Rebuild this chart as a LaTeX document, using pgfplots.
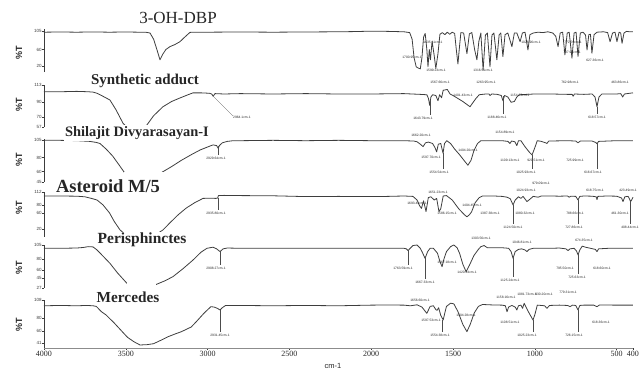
\documentclass[border=0pt]{standalone}
\usepackage{pgfplots}
\pgfplotsset{compat=1.18}
\usepackage{fontspec}
\setmainfont{Liberation Serif}
\setsansfont{Liberation Sans}
\definecolor{spec}{RGB}{62,62,62}
\definecolor{axc}{RGB}{60,60,60}
\pgfplotsset{
  panel/.style={
    scale only axis, width=589pt, xmin=400, xmax=4000, x dir=reverse,
    clip=false, axis y line*=left,
    axis line style={-, line width=0.5pt, draw=axc},
    tick align=outside, major tick length=1.6pt,
    every tick/.style={line width=0.4pt, draw=axc},
    yticklabel style={font=\sffamily\fontsize{4.5}{5}\selectfont, text=axc, inner sep=0.6pt},
    /pgf/number format/assume math mode=true,
    anchor=south west,
  },
  spec/.style={line width=0.8pt, color=spec, mark=none, line join=round},
}
\tikzset{
  pk/.style={font=\sffamily\fontsize{3.3}{4}\selectfont, text=black!85, inner sep=0pt},
  ld/.style={line width=0.3pt, draw=black!70},
  tt/.style={fill=white, inner sep=1pt, text=black!85},
}
\begin{document}
\begin{tikzpicture}
% Panel 1: 3-OH-DBP
\begin{axis}[panel, axis x line=none, at={(44pt,298.8pt)}, height=43.3pt, ymin=5, ymax=110, ytick={20,60,105}]
\addplot[spec] coordinates {(4000,102)(3900,102.5)(3800,102)(3700,102.6)(3600,102)(3500,102.5)(3420,102)(3380,102)(3352,100)(3330,85)(3310,60)(3291,35)(3275,48)(3255,60)(3230,67)(3200,72)(3169,79)(3140,90)(3108,101.5)(3080,102)(3000,102)(2800,102.5)(2600,102)(2400,102.5)(2200,103)(2100,103.5)(2000,104.5)(1900,104)(1800,103)(1765,101)(1750,85)(1738,40)(1725,18)(1712,15)(1700,13)(1690,40)(1680,90)(1670,99)(1660,60)(1653,18)(1645,60)(1638,35)(1628,80)(1615,45)(1605,14)(1592,50)(1580,97)(1565,101)(1550,96)(1535,102)(1520,97)(1505,102)(1490,99)(1480,60)(1470,25)(1462,60)(1452,101)(1435,100)(1415,50)(1400,98)(1385,101)(1368,60)(1354,35)(1342,80)(1330,100)(1316,10)(1302,95)(1290,100)(1274,18)(1262,95)(1250,100)(1232,35)(1218,96)(1208,100)(1195,43)(1182,96)(1165,100)(1140,67)(1125,100)(1110,100)(1090,79)(1076,100)(1060,102)(1042,59)(1030,96)(1010,100)(980,102)(950,101)(920,103)(890,100)(872,92)(858,67)(845,100)(830,102)(816,47)(802,100)(790,102)(773,39)(760,100)(748,102)(736,43)(722,100)(705,102)(690,95)(681,59)(670,96)(660,97)(651,51)(638,96)(620,102)(580,103)(555,101)(540,79)(525,100)(510,102)(498,79)(485,102)(475,100)(467,75)(455,100)(440,104)(420,103)(400,103)};
\end{axis}
% Panel 2: Synthetic adduct
\begin{axis}[panel, axis x line=none, at={(44pt,244pt)}, height=42pt, ymin=57, ymax=113, ytick={57,70,90,113}]
\addplot[spec] coordinates {(4000,104)(3900,104)(3800,104.5)(3730,104)(3700,103.5)(3676,102)(3640,98)(3597,93)(3560,80)(3517,62)(3480,54)(3440,51)(3400,52)(3370,60)(3330,72)(3273,84)(3220,91)(3169,95.7)(3120,100)(3089,102.5)(3040,102.5)(2990,102)(2975,101)(2966,98)(2955,101.5)(2900,101)(2800,101.5)(2600,101)(2400,101.5)(2200,101)(2000,101)(1800,101.5)(1700,100.5)(1660,100)(1650,95)(1643,86)(1635,97)(1625,100)(1605,99)(1592,92)(1582,100)(1570,96)(1560,106)(1535,107)(1518,101)(1500,99)(1470,95)(1440,91)(1415,87)(1396,84)(1380,89)(1360,95)(1340,100)(1300,101)(1280,101)(1274,99)(1263,101)(1230,100.5)(1205,99)(1195,92)(1185,99)(1165,97)(1145,90)(1125,91)(1110,97)(1095,100)(1050,100.5)(1000,101)(900,101)(800,100.5)(772,100.5)(766,98)(758,101)(700,100.5)(650,101)(632,97)(620,84)(608,97)(590,101)(500,101)(475,101.5)(463,97)(452,101)(420,102)(400,102.5)};
\end{axis}
% Panel 3: Shilajit
\begin{axis}[panel, axis x line=none, at={(44pt,189pt)}, height=42.7pt, ymin=45, ymax=106, ytick={45,60,80,105}]
\addplot[spec] coordinates {(4000,104.5)(3900,104.5)(3800,104)(3720,103)(3680,101.5)(3658,100)(3620,92)(3580,82)(3540,69)(3505,57.4)(3470,50)(3430,47)(3390,47.5)(3350,50)(3310,55)(3273,59.7)(3220,67)(3160,76)(3100,84)(3046,90.7)(3000,95)(2967,98)(2945,97)(2935,93)(2928,97)(2910,101)(2880,103)(2850,103.8)(2800,104)(2600,104.5)(2400,104)(2200,104.5)(2000,104)(1800,104)(1740,103.5)(1720,102.5)(1700,99)(1683,95.5)(1668,101)(1650,102)(1625,100)(1610,94)(1600,88)(1590,99)(1575,100)(1561,86)(1552,100)(1538,104)(1515,100)(1490,92)(1460,84)(1430,75)(1409,69)(1390,76)(1372,90)(1350,100)(1330,104)(1250,104)(1200,104)(1165,103)(1152,100)(1142,103.5)(1122,102.5)(1110,97)(1100,104)(1085,104)(1062,96)(1035,88)(1017,83.6)(1000,94)(985,104)(960,103)(935,101)(926,100)(915,103.5)(800,104)(750,103.5)(736,101)(722,103.5)(650,103.5)(628,101.5)(620,99.5)(610,103)(500,104)(400,104)};
\end{axis}
% Panel 4: Asteroid M/5
\begin{axis}[panel, axis x line=none, at={(44pt,134.2pt)}, height=44.8pt, ymin=0, ymax=112, ytick={20,60,80,112}]
\addplot[spec] coordinates {(4000,102)(3900,102)(3800,101.5)(3750,100)(3710,96)(3676,92)(3640,80)(3600,60)(3570,38)(3535,17)(3500,5)(3460,-3)(3420,-6)(3380,-5)(3340,0)(3300,10)(3273,17)(3230,35)(3180,55)(3130,72)(3080,85)(3028,96)(2980,96.5)(2950,96)(2938,97)(2934,103)(2900,103.5)(2800,103)(2600,102.5)(2400,100.5)(2200,101)(2000,100.5)(1900,101)(1800,102)(1745,101)(1720,92)(1705,78)(1693,71)(1680,90)(1665,63)(1651,98)(1635,100)(1615,92)(1600,96)(1586,63)(1575,70)(1560,102)(1540,103)(1505,92)(1465,70)(1430,55)(1415,50)(1400,55)(1387,62)(1365,85)(1340,98)(1320,102)(1250,102)(1200,101)(1170,99)(1150,95)(1133,79.5)(1120,92)(1100,100)(1085,96)(1072,101)(1048,88)(1030,94)(1010,101)(980,99)(960,102)(900,102)(850,101.5)(800,102)(790,99)(780,101.5)(750,101)(736,92)(725,101)(700,102)(650,101.5)(625,100)(620,93)(615,101)(560,102)(500,101.5)(470,97)(461,88)(450,100)(430,101)(423,96)(415,88)(408,92)(400,99)};
\end{axis}
% Panel 5: Perisphinctes
\begin{axis}[panel, axis x line=none, at={(44pt,83.1pt)}, height=42.9pt, ymin=27, ymax=105, ytick={27,45,60,80,105}]
\addplot[spec] coordinates {(4000,99)(3900,99)(3800,99.5)(3760,100.5)(3730,102)(3700,101.5)(3676,96)(3640,85)(3597,71.7)(3550,54)(3493,35.3)(3450,27)(3410,24)(3370,26)(3322,32.3)(3260,40)(3212,47.4)(3150,62)(3089,77.7)(3040,92)(3004,99)(2967,101)(2945,98)(2924,93)(2905,98)(2880,99.5)(2800,99)(2600,99)(2400,99)(2200,99)(2000,99)(1800,99)(1785,98)(1775,94.8)(1765,98)(1745,104)(1720,105)(1700,99)(1688,92)(1671,80.7)(1655,93)(1640,99)(1620,99)(1595,90)(1580,75)(1567,65.6)(1555,80)(1540,93)(1515,102)(1495,105)(1475,100)(1460,90)(1440,70)(1420,56.5)(1400,68)(1372,86)(1345,97)(1330,102)(1310,104)(1290,100)(1250,100)(1200,100)(1160,99)(1145,93)(1133,80.7)(1120,93)(1100,97)(1080,98)(1060,96)(1048,93)(1035,97)(1010,99)(900,99)(850,99.5)(810,98)(797,94.8)(785,98)(760,99)(745,94)(736,87)(725,96)(710,103)(690,101)(660,99)(630,97)(620,93)(610,98)(550,99)(450,99)(400,99)};
\end{axis}
% Panel 6: Mercedes
\begin{axis}[panel, axis x line*=bottom, at={(44pt,22.8pt)}, height=48.2pt, ymin=33, ymax=108, ytick={41,60,80,108},
  xtick={4000,3500,3000,2500,2000,1500,1000,500,400},
  xticklabels={4000,3500,3000,2500,2000,1500,1000,500,400},
  x axis line style={line width=1.3pt, draw=black!45},
  xticklabel style={font=\fontsize{8}{9}\selectfont, text=black!85, inner sep=1.5pt}]
\addplot[spec] coordinates {(4000,99)(3900,99.5)(3800,99)(3740,99.5)(3700,99)(3680,98)(3650,90)(3620,84.6)(3570,72)(3530,61)(3490,50)(3450,43)(3413,38)(3370,38.5)(3330,40)(3280,46)(3240,51)(3200,55)(3160,58.7)(3100,66)(3070,74)(3020,88)(2980,97.6)(2960,97)(2940,95)(2924,92.4)(2910,96)(2890,99.5)(2800,99.5)(2600,99)(2400,99.5)(2200,99)(2000,100)(1900,100.2)(1800,100)(1760,99)(1720,100.5)(1690,97)(1660,87.2)(1640,98)(1620,99)(1605,93)(1597,92)(1588,96)(1575,84)(1560,77)(1550,88)(1540,98)(1515,103)(1495,102)(1470,90)(1440,70)(1415,58.7)(1395,70)(1370,88)(1345,98)(1320,101)(1250,100.2)(1200,100)(1180,99)(1170,89.8)(1160,97)(1140,99.5)(1120,97)(1110,92.4)(1100,99)(1085,100)(1075,95)(1065,102.8)(1040,90)(1011,76.8)(1000,85)(985,100)(960,99.5)(940,99)(926,95)(910,99.5)(850,100)(800,99.5)(785,97.6)(770,100)(750,99.5)(736,92.4)(725,99.5)(700,100)(640,100)(620,97.6)(605,100.2)(500,100)(400,100)};
\end{axis}
\begin{scope}[shift={(0pt,371pt)}, x=1pt, y=-1pt]
% peak labels panel 1
\node[pk] at (412,57) {1700.95cm-1};
\node[pk] at (433,42) {1635.11cm-1};
\node[pk] at (436,70) {1599.23cm-1};
\node[pk] at (483,70) {1316.51cm-1};
\node[pk] at (531,42) {1026.96cm-1};
\node[pk] at (573,42) {772.59cm-1};
\node[pk] at (572,52) {787.96cm-1};
\node[pk] at (595,60) {627.36cm-1};
% panel 2
\draw[ld] (213,96) -- (233,116);
\node[pk,anchor=west] at (233,117) {2964.1cm-1};
\draw[ld] (430,100) -- (430,115);
\node[pk] at (423,118) {1643.79cm-1};
\node[pk] at (440,82) {1567.66cm-1};
\node[pk] at (463,95) {1401.43cm-1};
\node[pk] at (486,82) {1263.95cm-1};
\draw[ld] (503,96) -- (503,114);
\node[pk] at (497,117) {1188.46cm-1};
\node[pk] at (520,95) {1154.25cm-1};
\node[pk] at (570,82) {762.98cm-1};
\draw[ld] (597,107) -- (597,114);
\node[pk] at (597,117) {618.57cm-1};
\node[pk] at (620,82) {463.86cm-1};
% panel 3
\draw[ld] (218,146) -- (218,155);
\node[pk] at (216,158) {2929.64cm-1};
\node[pk] at (421,135) {1662.20cm-1};
\node[pk] at (431,157) {1597.70cm-1};
\draw[ld] (443,153) -- (443,169);
\node[pk] at (439,172) {1554.54cm-1};
\node[pk] at (468,150) {1404.20cm-1};
\node[pk] at (505,132) {1154.89cm-1};
\node[pk] at (510,160) {1109.13cm-1};
\node[pk] at (536,160) {929.51cm-1};
\draw[ld] (532,155) -- (532,169);
\node[pk] at (526,172) {1025.93cm-1};
\node[pk] at (575,160) {725.99cm-1};
\draw[ld] (597,143) -- (597,169);
\node[pk] at (593,172) {616.67cm-1};
% panel 4
\draw[ld] (218,198) -- (218,210);
\node[pk] at (216,213) {2935.80cm-1};
\node[pk] at (417,203) {1693.44cm-1};
\node[pk] at (438,192) {1651.23cm-1};
\node[pk] at (447,213) {1586.15cm-1};
\node[pk] at (472,205) {1404.45cm-1};
\node[pk] at (490,213) {1387.38cm-1};
\node[pk] at (525,213) {1080.32cm-1};
\draw[ld] (513,205) -- (513,224);
\node[pk] at (513,227) {1124.50cm-1};
\node[pk] at (526,190) {1024.93cm-1};
\node[pk] at (541,183) {979.09cm-1};
\node[pk] at (575,213) {788.66cm-1};
\draw[ld] (578,200) -- (578,224);
\node[pk] at (574,227) {727.86cm-1};
\node[pk] at (595,190) {618.75cm-1};
\node[pk] at (620,213) {461.30cm-1};
\node[pk] at (628,190) {423.49cm-1};
\draw[ld] (630,200) -- (630,224);
\node[pk] at (630,227) {408.44cm-1};
% panel 5
\draw[ld] (220,251) -- (220,265);
\node[pk] at (216,268) {2908.27cm-1};
\draw[ld] (408,250) -- (408,265);
\node[pk] at (403,268) {1763.59cm-1};
\draw[ld] (425,258) -- (425,279);
\node[pk] at (425,282) {1667.33cm-1};
\node[pk] at (447,262) {1567.18cm-1};
\node[pk] at (467,272) {1420.24cm-1};
\node[pk] at (481,238) {1303.56cm-1};
\node[pk] at (522,242) {1046.81cm-1};
\draw[ld] (513,258) -- (513,277);
\node[pk] at (510,280) {1125.24cm-1};
\node[pk] at (565,268) {795.50cm-1};
\draw[ld] (578,253) -- (578,274);
\node[pk] at (577,277) {725.63cm-1};
\node[pk] at (584,240) {674.35cm-1};
\node[pk] at (602,268) {618.60cm-1};
% panel 6
\draw[ld] (220,310) -- (220,332);
\node[pk] at (220,335) {2931.45cm-1};
\node[pk] at (420,300) {1656.60cm-1};
\node[pk] at (431,320) {1597.53cm-1};
\draw[ld] (442,320) -- (442,332);
\node[pk] at (440,335) {1554.38cm-1};
\node[pk] at (466,315) {1404.28cm-1};
\node[pk] at (506,297) {1158.16cm-1};
\node[pk] at (510,322) {1108.51cm-1};
\node[pk] at (527,294) {1081.73cm-1};
\node[pk] at (544,294) {930.20cm-1};
\node[pk] at (568,292) {779.31cm-1};
\draw[ld] (533,320) -- (533,332);
\node[pk] at (527,335) {1025.23cm-1};
\draw[ld] (578,310) -- (578,332);
\node[pk] at (574,335) {726.15cm-1};
\node[pk] at (601,322) {618.36cm-1};
% %T labels
\foreach \yy in {53,105,160,208,268,325}
  \node[rotate=90, font=\sffamily\bfseries\fontsize{9}{10}\selectfont, text=black!85] at (19,\yy) {\%T};
% white masks where titles hide the broad bands
\fill[white] (124,172) rectangle (163,180);
\fill[white] (127,282) rectangle (156,292);
% titles
\node[font=\fontsize{17}{18}\selectfont, text=black!85] at (178,18) {3-OH-DBP};
\node[tt, font=\bfseries\fontsize{15}{16}\selectfont] at (145,81) {Synthetic adduct};
\node[tt, font=\bfseries\fontsize{14.4}{15}\selectfont] at (137,133) {Shilajit Divyarasayan-I};
\node[tt, font=\bfseries\fontsize{18.5}{19}\selectfont] at (108,186) {Asteroid M/5};
\node[tt, font=\bfseries\fontsize{15.5}{16}\selectfont] at (142,240) {Perisphinctes};
\node[tt, font=\bfseries\fontsize{15.3}{16}\selectfont] at (128,297) {Mercedes};
\node[font=\sffamily\fontsize{7.5}{8}\selectfont, text=black!85] at (333,366) {cm-1};
\end{scope}
\pgfresetboundingbox
\path[use as bounding box] (0,0) rectangle (641pt,371pt);
\end{tikzpicture}
\end{document}
